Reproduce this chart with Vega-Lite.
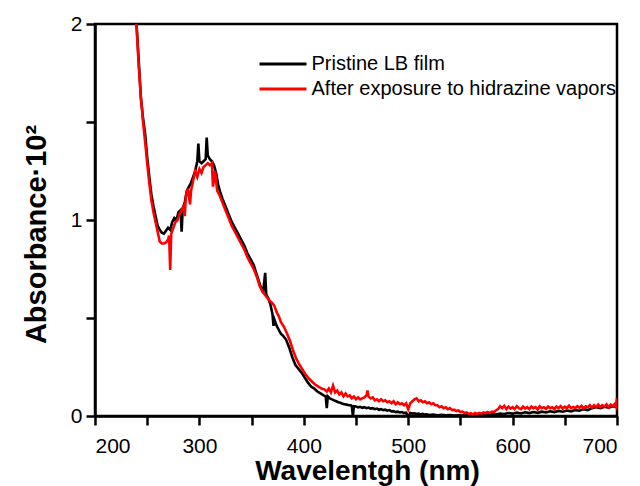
{
  "$schema": "https://vega.github.io/schema/vega-lite/v6.json",
  "width": 522,
  "height": 392,
  "autosize": {"type": "none"},
  "padding": {"left": 95, "top": 24, "right": 23, "bottom": 70},
  "background": "white",
  "config": {
    "font": "Liberation Sans",
    "view": {"stroke": "black", "strokeWidth": 2.5}
  },
  "datasets": {
    "pristine": [
      [238,2.10],[240,1.98],[242,1.80],[244,1.62],[246,1.52],[248,1.44],[250,1.32],[252,1.22],[254,1.13],[256,1.07],[258,1.02],[260,0.97],[262,0.95],[264,0.935],[266,0.93],[268,0.945],[270,0.96],[272,0.95],[274,0.99],[276,1.01],[278,1.00],[280,1.04],[282,1.05],[283,0.94],[284,1.06],[286,1.09],[288,1.15],[290,1.17],[292,1.19],[294,1.22],[296,1.25],[298,1.30],[299,1.39],[300,1.30],[302,1.29],[304,1.30],[306,1.31],[307,1.42],[308,1.33],[310,1.31],[312,1.30],[314,1.28],[316,1.24],[318,1.18],[320,1.14],[322,1.11],[325,1.07],[328,1.03],[331,0.99],[334,0.96],[337,0.93],[340,0.90],[343,0.87],[346,0.83],[349,0.80],[352,0.77],[355,0.72],[358,0.67],[361,0.63],[363,0.73],[364,0.62],[366,0.60],[368,0.57],[370,0.52],[371,0.46],[372,0.49],[374,0.46],[376,0.44],[378,0.42],[380,0.41],[383,0.39],[386,0.35],[389,0.30],[392,0.26],[395,0.24],[398,0.22],[401,0.195],[404,0.17],[407,0.15],[410,0.14],[413,0.125],[416,0.115],[419,0.105],[421,0.10],[422,0.04],[423,0.10],[425,0.09],[427,0.085],[429,0.08],[431,0.075],[433,0.07],[435,0.068],[437,0.062],[439,0.06],[441,0.058],[443,0.055],[445,0.055],[446,0.05],[447,0.0],[448,0.05],[450,0.048],[452,0.044],[454,0.047],[456,0.042],[458,0.045],[460,0.04],[462,0.043],[464,0.038],[466,0.04],[468,0.035],[470,0.038],[472,0.032],[474,0.035],[476,0.03],[478,0.032],[480,0.027],[482,0.03],[484,0.024],[486,0.025],[488,0.02],[490,0.022],[492,0.018],[494,0.02],[496,0.015],[498,0.017],[500,-0.005],[502,0.016],[504,0.012],[506,0.014],[508,0.01],[510,0.012],[512,0.008],[514,0.011],[516,0.007],[518,0.009],[520,0.005],[524,0.007],[528,0.004],[532,0.006],[536,0.003],[540,0.005],[544,0.002],[548,0.004],[552,0.002],[556,0.005],[560,0.003],[564,0.006],[568,0.004],[572,0.008],[576,0.006],[580,0.01],[584,0.008],[588,0.013],[592,0.01],[596,0.015],[600,0.012],[604,0.017],[608,0.013],[612,0.019],[616,0.015],[620,0.02],[624,0.016],[628,0.022],[632,0.018],[636,0.024],[640,0.02],[644,0.026],[648,0.022],[652,0.028],[656,0.024],[660,0.03],[664,0.027],[668,0.035],[672,0.03],[676,0.04],[680,0.046],[684,0.04],[688,0.047],[692,0.042],[696,0.05],[700,0.048]
    ],
    "after": [
      [238,2.10],[240,1.97],[242,1.78],[244,1.62],[245,1.57],[246,1.50],[248,1.40],[250,1.29],[252,1.19],[254,1.10],[256,1.04],[258,0.99],[260,0.94],[262,0.89],[264,0.88],[266,0.88],[268,0.885],[270,0.90],[271,0.92],[272,0.745],[273,0.93],[275,0.96],[277,0.99],[279,1.00],[281,1.03],[283,1.05],[285,1.07],[286,1.02],[287,1.12],[289,1.16],[291,1.08],[292,1.15],[294,1.20],[296,1.25],[298,1.22],[300,1.26],[302,1.24],[304,1.27],[306,1.28],[308,1.29],[310,1.28],[312,1.29],[313,1.17],[315,1.25],[317,1.15],[319,1.13],[322,1.09],[325,1.05],[328,1.01],[331,0.97],[334,0.94],[337,0.91],[340,0.88],[343,0.85],[346,0.81],[349,0.78],[352,0.75],[355,0.71],[358,0.66],[361,0.63],[364,0.61],[367,0.59],[370,0.575],[372,0.56],[374,0.53],[376,0.51],[378,0.48],[381,0.455],[384,0.42],[387,0.38],[390,0.33],[393,0.29],[396,0.26],[399,0.235],[402,0.21],[405,0.19],[408,0.175],[411,0.16],[414,0.15],[417,0.14],[420,0.135],[422,0.125],[424,0.14],[426,0.12],[428,0.155],[430,0.12],[432,0.13],[434,0.11],[436,0.12],[438,0.10],[440,0.115],[442,0.10],[444,0.105],[446,0.09],[448,0.10],[450,0.085],[452,0.095],[454,0.085],[456,0.09],[458,0.095],[460,0.105],[461,0.13],[462,0.10],[464,0.09],[466,0.095],[468,0.08],[470,0.085],[472,0.075],[474,0.085],[476,0.075],[478,0.08],[480,0.07],[482,0.075],[484,0.065],[486,0.075],[488,0.06],[490,0.07],[492,0.06],[494,0.065],[496,0.055],[498,0.065],[500,0.035],[502,0.065],[504,0.075],[506,0.085],[508,0.09],[510,0.075],[512,0.08],[514,0.07],[516,0.075],[518,0.065],[520,0.07],[522,0.06],[524,0.065],[526,0.055],[528,0.055],[530,0.045],[532,0.05],[534,0.04],[536,0.045],[538,0.035],[540,0.04],[542,0.03],[544,0.032],[546,0.025],[548,0.028],[550,0.02],[552,0.022],[554,0.015],[556,0.018],[558,0.01],[560,0.014],[562,0.008],[564,0.015],[566,0.01],[568,0.016],[570,0.012],[572,0.018],[574,0.014],[576,0.02],[578,0.015],[580,0.022],[582,0.02],[584,0.028],[586,0.035],[588,0.05],[590,0.04],[592,0.052],[594,0.035],[596,0.048],[598,0.038],[600,0.045],[602,0.035],[604,0.05],[606,0.04],[608,0.035],[610,0.048],[612,0.038],[614,0.045],[616,0.035],[618,0.048],[620,0.04],[622,0.045],[624,0.033],[626,0.05],[628,0.04],[630,0.045],[632,0.036],[634,0.048],[636,0.04],[638,0.045],[640,0.035],[642,0.048],[644,0.04],[646,0.05],[648,0.038],[650,0.048],[652,0.04],[654,0.052],[656,0.04],[658,0.046],[660,0.04],[662,0.05],[664,0.042],[666,0.052],[668,0.04],[670,0.05],[672,0.045],[674,0.055],[676,0.042],[678,0.055],[680,0.045],[682,0.058],[684,0.045],[686,0.055],[688,0.048],[690,0.06],[692,0.045],[694,0.058],[696,0.05],[698,0.062],[699,0.05],[700,0.09]
    ]
  },
  "layer": [
    {
      "data": {"name": "pristine"},
      "transform": [
        {"calculate": "datum[0]", "as": "wl"},
        {"calculate": "datum[1]", "as": "abs"},
        {"calculate": "'Pristine LB film'", "as": "series"}
      ],
      "mark": {"type": "line", "strokeWidth": 2.6, "clip": true},
      "encoding": {
        "x": {"field": "wl", "type": "quantitative"},
        "y": {"field": "abs", "type": "quantitative"},
        "color": {"field": "series", "type": "nominal"}
      }
    },
    {
      "data": {"name": "after"},
      "transform": [
        {"calculate": "datum[0]", "as": "wl"},
        {"calculate": "datum[1]", "as": "abs"},
        {"calculate": "'After exposure to hidrazine vapors'", "as": "series"}
      ],
      "mark": {"type": "line", "strokeWidth": 2.6, "clip": true},
      "encoding": {
        "x": {"field": "wl", "type": "quantitative"},
        "y": {"field": "abs", "type": "quantitative"},
        "color": {"field": "series", "type": "nominal"}
      }
    }
  ],
  "encoding": {
    "x": {
      "field": "wl", "type": "quantitative",
      "scale": {"domain": [200, 700], "nice": false, "zero": false},
      "axis": {
        "title": "Wavelentgh (nm)",
        "values": [200,250,300,350,400,450,500,550,600,650,700],
        "labelExpr": "datum.value % 100 === 0 ? format(datum.value, 'd') : ''",
        "grid": false,
        "domainColor": "black", "domainWidth": 2.5,
        "tickColor": "black", "tickWidth": 2.5, "tickSize": 9,
        "labelColor": "black", "labelFontSize": 21, "labelPadding": 10, "labelFont": "Liberation Sans",
        "titleColor": "black", "titleFontSize": 28, "titleFontWeight": "bold", "titleFont": "Liberation Sans",
        "titleX": 272, "titleY": 63, "titleBaseline": "alphabetic", "titleAlign": "center"
      }
    },
    "y": {
      "field": "abs", "type": "quantitative",
      "scale": {"domain": [0, 2], "nice": false},
      "axis": {
        "title": "Absorbance·10²",
        "values": [0, 0.5, 1, 1.5, 2],
        "labelExpr": "datum.value % 1 === 0 ? format(datum.value, 'd') : ''",
        "grid": false,
        "domainColor": "black", "domainWidth": 2.5,
        "tickColor": "black", "tickWidth": 2.5, "tickSize": 9,
        "labelColor": "black", "labelFontSize": 21, "labelPadding": 4, "labelFont": "Liberation Sans",
        "titleColor": "black", "titleFontSize": 29, "titleFontWeight": "bold", "titleFont": "Liberation Sans",
        "titleX": -50, "titleY": 210, "titleBaseline": "alphabetic", "titleAlign": "center", "titleAngle": 270
      }
    },
    "color": {
      "field": "series", "type": "nominal",
      "scale": {"domain": ["Pristine LB film", "After exposure to hidrazine vapors"], "range": ["#000000", "#ff0000"]},
      "legend": {
        "title": null,
        "orient": "none",
        "legendX": 178,
        "legendY": 30,
        "symbolType": "M-4,0H4",
        "symbolSize": 138,
        "symbolStrokeWidth": 3,
        "symbolFillColor": "transparent",
        "labelFontSize": 20,
        "labelFont": "Liberation Sans",
        "labelColor": "black",
        "labelOffset": 18.5,
        "labelLimit": 0,
        "rowPadding": 5
      }
    }
  }
}
